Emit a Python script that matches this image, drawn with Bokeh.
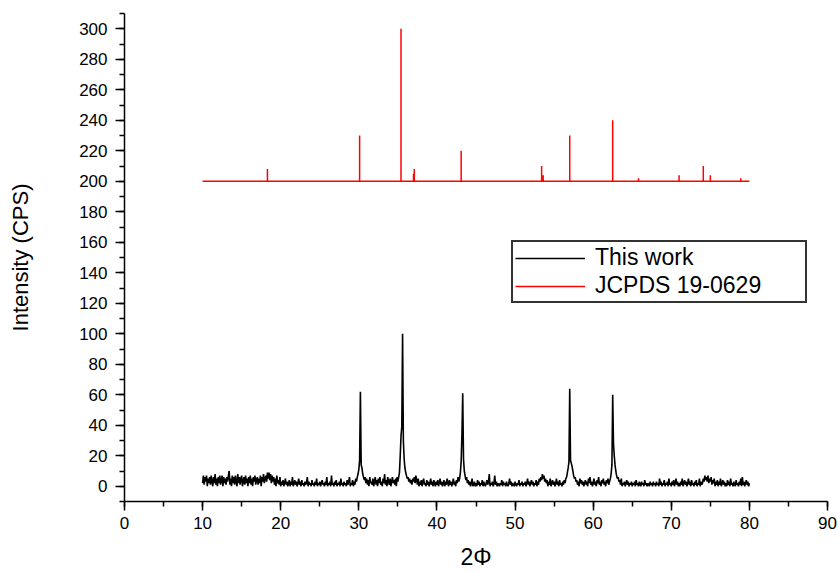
from bokeh.plotting import figure
from bokeh.models import Range1d, SingleIntervalTicker, Legend, LegendItem
from bokeh.embed import file_html
from bokeh.resources import INLINE

# ---- measured pattern ("This work"), 2-theta from 10.0 step 0.1, one row per degree ----
two_theta_start = 10.0
two_theta_step = 0.1
intensity_rows = [
    "2 7 1 6 3 7 0 5 2 6",      # 10
    "1 7 3 0 6 2 8 1 5 0",      # 11
    "6 2 7 1 4 7 0 6 2 5",      # 12
    "1 6 3 7 10 1 5 0 7 2",     # 13
    "6 1 7 3 0 8 2 6 1 5",      # 14
    "7 0 3 6 1 7 2 5 0 6",      # 15
    "2 7 1 5 0 6 3 7 1 4",      # 16
    "6 1 5 2 7 0 6 3 8 2",      # 17
    "5 7 3 9 5 9 4 8 2 7",      # 18
    "3 6 1 5 0 7 2 4 1 6",      # 19
    "0 3 1 4 0 2 5 1 3 0",      # 20
    "2 4 0 3 1 6 0 2 4 1",      # 21
    "3 0 2 5 1 3 0 4 1 2",      # 22
    "0 3 1 2 6 0 3 1 2 0",      # 23
    "4 1 2 0 3 1 5 0 2 1",      # 24
    "3 0 2 4 1 2 0 3 1 6",      # 25
    "0 2 1 3 0 7 1 2 0 3",      # 26
    "1 4 0 2 1 3 0 5 1 2",      # 27
    "0 3 1 2 0 4 1 3 6 0",      # 28
    "2 1 4 0 3 1 5 3 6 8",      # 29
    "11 17 62 14 12 8 6 4 6 2", # 30
    "5 1 4 0 6 2 3 1 5 0",      # 31
    "3 6 1 4 0 5 2 6 1 3",      # 32
    "0 5 2 8 1 4 0 6 3 1",      # 33
    "5 0 3 6 2 4 1 5 0 6",      # 34
    "3 6 9 20 33 39 100 30 18 12",  # 35
    "9 7 5 6 3 5 2 4 1 5",      # 36
    "3 6 2 7 4 1 5 0 3 1",      # 37
    "4 0 3 5 1 2 0 4 1 3",      # 38
    "0 2 5 1 3 0 4 2 0 3",      # 39
    "1 4 0 2 5 1 3 0 2 4",      # 40
    "0 3 1 5 2 0 4 1 3 0",      # 41
    "2 5 1 3 0 4 2 6 3 5",      # 42
    "9 16 34 61 18 10 7 4 6 2", # 43
    "4 1 3 0 2 5 0 1 3 0",      # 44
    "2 0 4 1 3 0 2 1 4 0",      # 45
    "3 1 0 2 4 1 3 8 0 2",      # 46
    "1 3 0 2 7 1 3 0 2 1",      # 47
    "0 2 1 4 0 3 1 2 0 3",      # 48
    "1 0 2 5 1 3 0 2 1 0",      # 49
    "3 1 0 2 1 4 0 2 1 3",      # 50
    "0 2 1 3 0 2 5 1 3 0",      # 51
    "2 4 1 3 0 2 1 4 0 3",      # 52
    "1 5 3 6 4 8 5 7 3 5",      # 53
    "2 4 0 3 1 5 0 2 4 1",      # 54
    "3 0 2 5 1 3 0 4 1 2",      # 55
    "0 3 1 4 2 5 6 9 12 16",    # 56
    "64 17 15 13 10 7 5 6 3 4", # 57
    "1 3 0 5 2 4 1 3 0 2",      # 58
    "4 1 3 0 5 2 6 1 3 0",      # 59
    "2 5 1 3 0 4 2 6 1 3",      # 60
    "0 4 2 5 1 3 0 4 2 5",      # 61
    "1 3 5 8 14 60 28 20 14 10",    # 62
    "7 5 6 3 4 1 5 0 2 1",      # 63
    "3 0 2 4 1 3 0 2 1 3",      # 64
    "0 2 1 3 0 4 1 2 0 3",      # 65
    "1 0 3 1 2 0 4 1 2 0",      # 66
    "2 1 0 3 1 2 0 3 1 2",      # 67
    "0 3 1 2 0 5 1 3 0 2",      # 68
    "1 4 0 2 1 3 0 5 1 2",      # 69
    "0 3 1 4 0 2 5 1 3 0",      # 70
    "2 0 3 1 5 0 2 4 1 3",      # 71
    "0 2 5 1 3 0 4 1 2 0",      # 72
    "3 1 4 0 2 1 5 0 3 1",      # 73
    "2 5 3 7 4 6 3 7 2 5",      # 74
    "3 6 1 4 2 5 0 3 1 4",      # 75
    "0 3 1 5 0 2 4 1 3 0",      # 76
    "2 0 4 1 3 0 5 1 2 0",      # 77
    "3 1 0 4 1 2 0 3 1 5",      # 78
    "0 6 1 3 0 2 4 1 3 0",      # 79
    "2",                        # 80
]

# ---- reference pattern JCPDS 19-0629 (stick positions / relative intensities) ----
ref_offset = 200
ref_start = 10.0
ref_end = 80.0
ref_pos = [18.3, 30.1, 35.4, 37.0, 37.1, 43.1, 53.4, 53.6, 57.0, 62.5, 65.8, 71.0, 74.1, 75.0, 78.9]
ref_int = [8, 30, 100, 5, 8, 20, 10, 4, 30, 40, 2, 4, 10, 4, 2]

x_ticks_interval = 10
y_ticks_interval = 20

# ---- build sources ----
measured = [float(v) for row in intensity_rows for v in row.split()]
two_theta = [round(two_theta_start + i * two_theta_step, 2) for i in range(len(measured))]

rx = [ref_start]
ry = [ref_offset]
for pos, h in zip(ref_pos, ref_int):
    rx += [pos, pos, pos]
    ry += [ref_offset, ref_offset + h, ref_offset]
rx.append(ref_end)
ry.append(ref_offset)

FONT = "Liberation Sans"

p = figure(width=839, height=572,
           x_range=Range1d(0, 90), y_range=Range1d(-10, 310),
           output_backend="svg", toolbar_location=None,
           min_border_left=124, min_border_right=12,
           min_border_top=13, min_border_bottom=71)
p.background_fill_color = "white"
p.border_fill_color = "white"
p.outline_line_color = None
p.xgrid.grid_line_color = None
p.ygrid.grid_line_color = None

p.xaxis.ticker = SingleIntervalTicker(interval=x_ticks_interval, num_minor_ticks=2)
p.yaxis.ticker = SingleIntervalTicker(interval=y_ticks_interval, num_minor_ticks=2)
p.xaxis.axis_label = "2Φ"
p.yaxis.axis_label = "Intensity (CPS)"

for ax in p.axis:
    ax.axis_line_color = "black"
    ax.axis_line_width = 1.5
    ax.major_tick_line_color = "black"
    ax.minor_tick_line_color = "black"
    ax.major_tick_line_width = 1.5
    ax.minor_tick_line_width = 1.5
    ax.major_tick_in = 0
    ax.major_tick_out = 9
    ax.minor_tick_in = 0
    ax.minor_tick_out = 5
    ax.major_label_text_font = FONT
    ax.major_label_text_font_size = "17px"
    ax.major_label_text_color = "black"
    ax.axis_label_text_font = FONT
    ax.axis_label_text_font_size = "22px"
    ax.axis_label_text_font_style = "normal"
    ax.axis_label_text_color = "black"

p.xaxis.axis_label_text_font_size = "23px"
p.xaxis.major_label_standoff = 6
p.xaxis.axis_label_standoff = 12
p.yaxis.major_label_standoff = 8
p.yaxis.axis_label_standoff = 43

r1 = p.line(two_theta, measured, line_color="black", line_width=1.6)
r2 = p.line(rx, ry, line_color="#ff0000", line_width=1.5)

legend = Legend(items=[LegendItem(label="This work", renderers=[r1]),
                       LegendItem(label="JCPDS 19-0629", renderers=[r2])],
                location=(387, 198))
legend.label_text_font = FONT
legend.label_text_font_size = "23px"
legend.label_text_color = "black"
legend.glyph_width = 70
legend.label_standoff = 10
legend.label_width = 208
legend.padding = 2
legend.spacing = 1
legend.border_line_color = "#333333"
legend.border_line_alpha = 1.0
legend.border_line_width = 2
legend.background_fill_color = "white"
legend.background_fill_alpha = 1.0
p.add_layout(legend)

open("out.html", "w").write(file_html(p, INLINE))
